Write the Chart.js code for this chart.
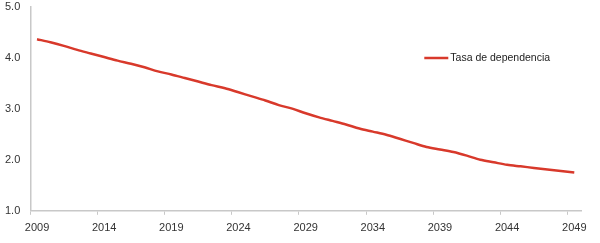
<!DOCTYPE html>
<html>
<head>
<meta charset="utf-8">
<script src="https://cdn.jsdelivr.net/npm/chart.js@4"></script>
<style>
  html, body { margin: 0; padding: 0; background: #fff; }
  #wrap { width: 600px; height: 243px; }
</style>
</head>
<body>
<div id="wrap"><canvas id="grafico"></canvas></div>
<script>
// años (categorías) y valores de la serie
const anios = ["2009","2010","2011","2012","2013","2014","2015","2016","2017","2018",
  "2019","2020","2021","2022","2023","2024","2025","2026","2027","2028",
  "2029","2030","2031","2032","2033","2034","2035","2036","2037","2038",
  "2039","2040","2041","2042","2043","2044","2045","2046","2047","2048","2049"];
const tasaDependencia = [4.36, 4.30, 4.23, 4.15, 4.08, 4.01, 3.94, 3.88, 3.81, 3.73,
  3.67, 3.60, 3.53, 3.46, 3.40, 3.32, 3.24, 3.16, 3.07, 3.00,
  2.91, 2.83, 2.76, 2.69, 2.61, 2.55, 2.49, 2.41, 2.33, 2.25,
  2.20, 2.15, 2.08, 2.00, 1.95, 1.90, 1.87, 1.84, 1.81, 1.78, 1.75];
const etiquetasX = ["2009","2014","2019","2024","2029","2034","2039","2044","2049"];
const etiquetasY = [1, 2, 3, 4, 5];

const colorLinea = "#d8392b";
const colorEje = "#c8c8c8";
const fuente = { family: "'Liberation Sans', Arial, Helvetica, sans-serif", size: 11 };

// leyenda dibujada dentro del área del gráfico
const leyendaInterna = {
  id: "leyendaInterna",
  afterDraw(chart) {
    const { ctx, chartArea } = chart;
    const ds = chart.data.datasets[0];
    const x = chartArea.left + 394, y = 58;
    ctx.save();
    ctx.strokeStyle = ds.borderColor;
    ctx.lineWidth = 2.5;
    ctx.beginPath();
    ctx.moveTo(x, y);
    ctx.lineTo(x + 24, y);
    ctx.stroke();
    ctx.fillStyle = "#222";
    ctx.font = "10.5px " + fuente.family;
    ctx.textBaseline = "middle";
    ctx.fillText(ds.label, x + 26, y);
    ctx.restore();
  }
};

new Chart(document.getElementById("grafico"), {
  type: "line",
  data: {
    labels: anios,
    datasets: [{
      label: "Tasa de dependencia",
      data: tasaDependencia,
      borderColor: colorLinea,
      borderWidth: 2.5,
      pointRadius: 0,
      tension: 0.3,
      fill: false
    }]
  },
  options: {
    responsive: true,
    maintainAspectRatio: false,
    animation: false,
    layout: { padding: { top: 6.5, right: 19, bottom: 1, left: -5 } },
    plugins: { legend: { display: false }, tooltip: { enabled: false } },
    scales: {
      x: {
        type: "category",
        offset: true,
        grid: {
          offset: true,
          drawOnChartArea: false,
          tickLength: 4,
          color: ctx => (ctx.index % 5 === 0 ? colorEje : "transparent")
        },
        border: { color: colorEje, width: 1.5 },
        ticks: {
          autoSkip: false,
          maxRotation: 0,
          padding: 7,
          color: "#333",
          font: fuente,
          callback: function (val) {
            const l = this.getLabelForValue(val);
            return etiquetasX.includes(l) ? l : "";
          }
        }
      },
      y: {
        min: etiquetasY[0],
        max: etiquetasY[etiquetasY.length - 1],
        grid: { drawOnChartArea: false, drawTicks: false },
        border: { color: colorEje, width: 1.5 },
        afterBuildTicks: s => { s.ticks = etiquetasY.map(v => ({ value: v })); },
        afterFit: s => { s.paddingTop = 0; s.paddingBottom = 0; },
        ticks: {
          padding: 10,
          color: "#333",
          font: fuente,
          callback: v => v.toFixed(1)
        }
      }
    }
  },
  plugins: [leyendaInterna]
});
</script>
</body>
</html>
